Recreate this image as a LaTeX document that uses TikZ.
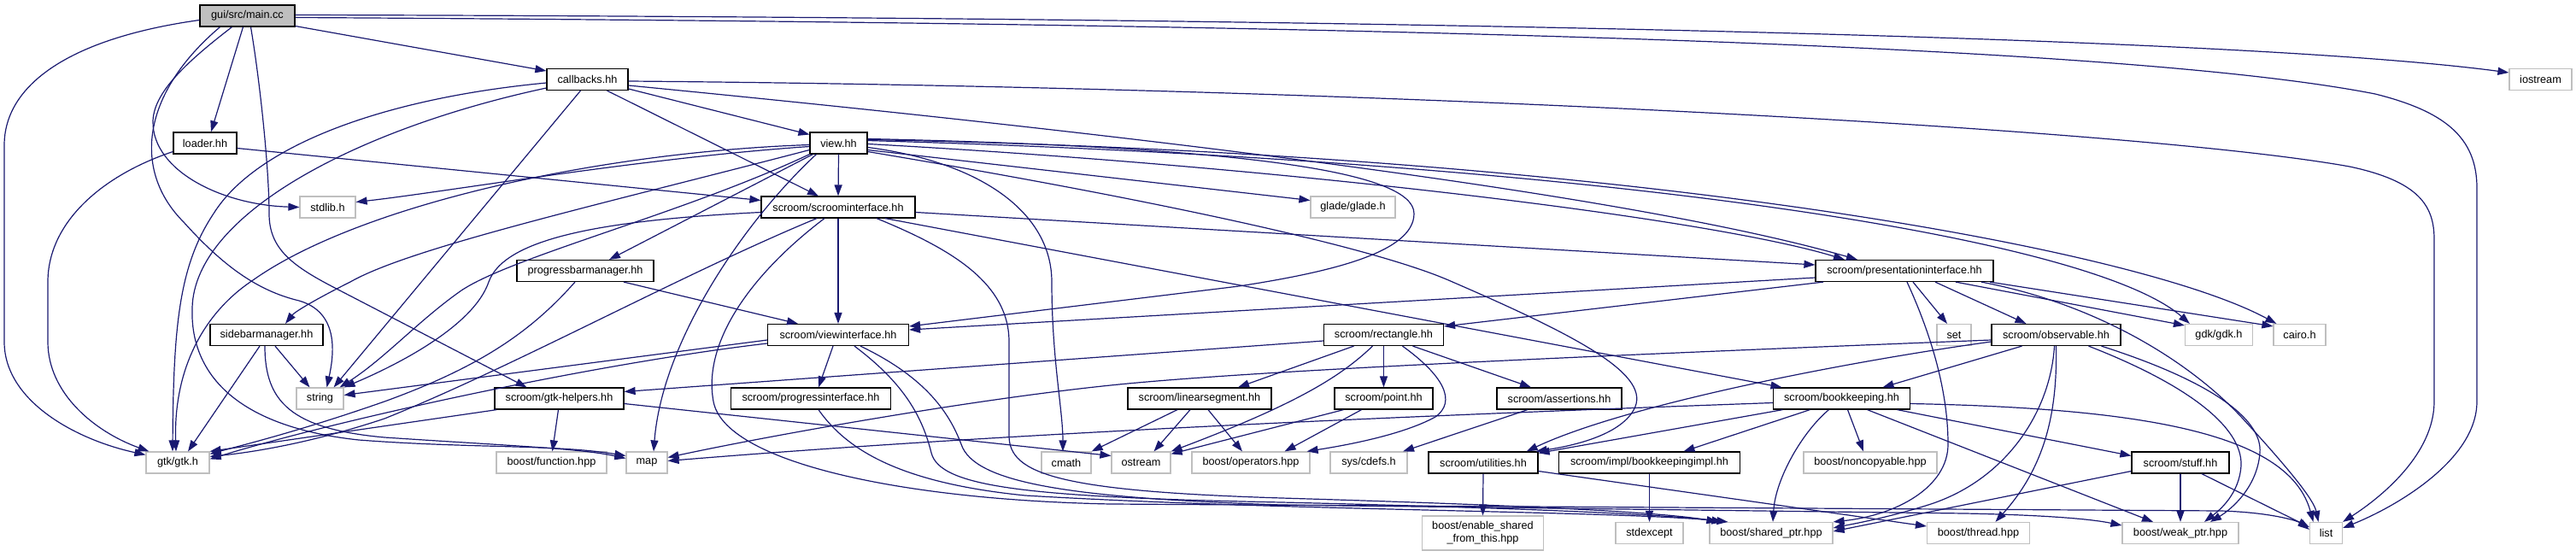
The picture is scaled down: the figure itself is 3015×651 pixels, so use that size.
\documentclass[tikz,border=0pt]{standalone}
\usepackage{fontspec}
\setmainfont{Liberation Sans}
\usetikzlibrary{arrows.meta}
\definecolor{edgeblue}{HTML}{191970}
\definecolor{greyline}{HTML}{BFBFBF}
\tikzset{
  hdr/.style={draw=black, line width=1.2pt, fill=white, inner sep=0pt, minimum height=25pt, font=\fontsize{12.7}{15}\selectfont},
  extnode/.style={hdr, draw=greyline},
  rootnode/.style={hdr, fill=greyline},
  dep/.style={draw=edgeblue, line width=1.2pt, -{Triangle[length=13pt,width=9pt]}}
}
\begin{document}
\begin{tikzpicture}[x=1pt,y=-1pt]
\useasboundingbox (0,0) rectangle (3015,651);
% nodes
\node[rootnode, minimum width=111pt] (main) at (289.5,18.5) {gui/src/main.cc};
\node[hdr, minimum width=95pt] (callbacks) at (687.5,93) {callbacks.hh};
\node[extnode, minimum width=73pt] (iostream) at (2973.5,93) {iostream};
\node[hdr, minimum width=74pt] (loader) at (240,167.5) {loader.hh};
\node[hdr, minimum width=67pt] (view) at (981.5,167.5) {view.hh};
\node[extnode, minimum width=65pt] (stdlib) at (383.5,242.5) {stdlib.h};
\node[hdr, minimum width=180pt] (scroomif) at (981,242.5) {scroom/scroominterface.hh};
\node[extnode, minimum width=99pt] (glade) at (1583.5,242.5) {glade/glade.h};
\node[hdr, minimum width=160pt] (pbm) at (685,317) {progressbarmanager.hh};
\node[hdr, minimum width=208pt] (presif) at (2229,317) {scroom/presentationinterface.hh};
\node[hdr, minimum width=132pt] (sbm) at (312,392) {sidebarmanager.hh};
\node[hdr, minimum width=165pt] (viewif) at (981,392) {scroom/viewinterface.hh};
\node[hdr, minimum width=140pt] (rect) at (1619.5,392) {scroom/rectangle.hh};
\node[extnode, minimum width=40pt] (set) at (2287,392) {set};
\node[hdr, minimum width=151pt] (obs) at (2406.5,392) {scroom/observable.hh};
\node[extnode, minimum width=79pt] (gdk) at (2597,392) {gdk/gdk.h};
\node[extnode, minimum width=61pt] (cairo) at (2691.5,392) {cairo.h};
\node[extnode, minimum width=55pt] (string) at (374.5,466.5) {string};
\node[hdr, minimum width=151pt] (gtkh) at (654.5,466.5) {scroom/gtk-helpers.hh};
\node[hdr, minimum width=187pt] (progif) at (949,466.5) {scroom/progressinterface.hh};
\node[hdr, minimum width=168pt] (linseg) at (1404,466.5) {scroom/linearsegment.hh};
\node[hdr, minimum width=115pt] (point) at (1619.5,466.5) {scroom/point.hh};
\node[hdr, minimum width=146pt] (assert) at (1825,466.5) {scroom/assertions.hh};
\node[hdr, minimum width=160pt] (bk) at (2155.5,466.5) {scroom/bookkeeping.hh};
\node[extnode, minimum width=74pt] (gtk) at (208,541.5) {gtk/gtk.h};
\node[extnode, minimum width=129pt] (func) at (645.5,541.5) {boost/function.hpp};
\node[extnode, minimum width=48pt] (map) at (757,541.5) {map};
\node[extnode, minimum width=58pt] (cmath) at (1248,541.5) {cmath};
\node[extnode, minimum width=69pt] (ostream) at (1335.5,541.5) {ostream};
\node[extnode, minimum width=138pt] (ops) at (1464,541.5) {boost/operators.hpp};
\node[extnode, minimum width=90pt] (cdefs) at (1602,541.5) {sys/cdefs.h};
\node[hdr, minimum width=128pt] (util) at (1736,541.5) {scroom/utilities.hh};
\node[hdr, minimum width=212pt] (bkimpl) at (1930.5,541.5) {scroom/impl/bookkeepingimpl.hh};
\node[extnode, minimum width=156pt] (noncopy) at (2189,541.5) {boost/noncopyable.hpp};
\node[hdr, minimum width=114pt] (stuff) at (2552,541.5) {scroom/stuff.hh};
\node[extnode, minimum width=142pt, minimum height=40pt, align=center] (enable) at (1735.5,624) {boost/enable\_shared\\\_from\_this.hpp};
\node[extnode, minimum width=79pt] (stdexcept) at (1930.5,624) {stdexcept};
\node[extnode, minimum width=144pt] (shared) at (2073,624) {boost/shared\_ptr.hpp};
\node[extnode, minimum width=120pt] (thread) at (2315.5,624) {boost/thread.hpp};
\node[extnode, minimum width=136pt] (weak) at (2552,624) {boost/weak\_ptr.hpp};
\node[extnode, minimum width=38pt] (list) at (2722.5,624) {list};
% main.cc
\draw[dep] ([yshift=-5pt]main.west) .. controls (80,45) and (5,100) .. (5,170) -- (5,400) .. controls (5,470) and (90,515) .. ([yshift=-4pt]gtk.north west);
\draw[dep] ([xshift=-5pt]main.south) -- ([xshift=7pt]loader.north);
\draw[dep] ([xshift=-18pt]main.south) .. controls (215,75) and (179,110) .. (179,143) .. controls (179,200) and (260,240) .. (stdlib.west);
\draw[dep] ([xshift=-32pt]main.south) .. controls (165,110) and (155,200) .. (215,260) .. controls (260,310) and (300,340) .. (350,352) .. controls (395,365) and (392,410) .. ([xshift=8pt]string.north);
\draw[dep] ([xshift=4pt]main.south) .. controls (305,100) and (315,200) .. (315,250) .. controls (315,290) and (340,310) .. (390,336) -- ([xshift=-38pt]gtkh.north);
\draw[dep] ([yshift=-12pt]main.east) -- ([yshift=10pt]callbacks.west);
\draw[dep] ([yshift=1pt]main.east) .. controls (1500,20) and (2600,40) .. ([yshift=8pt]iostream.west);
\draw[dep] ([yshift=-2pt]main.east) .. controls (1700,28) and (2500,55) .. (2780,110) .. controls (2860,130) and (2899,160) .. (2899,220) -- (2899,470) .. controls (2899,540) and (2800,595) .. ([yshift=6pt]list.east);
% callbacks.hh
\draw[dep] ([yshift=-4pt]callbacks.west) .. controls (450,115) and (300,170) .. (250,250) .. controls (210,310) and (203,380) .. ([xshift=-6pt]gtk.north);
\draw[dep] ([yshift=-10pt]callbacks.west) .. controls (420,150) and (228,250) .. (225,360) .. controls (222,440) and (280,500) .. (420,515) .. controls (550,525) and (650,520) .. ([yshift=8pt]map.west);
\draw[dep] ([xshift=-8pt]callbacks.south) -- ([xshift=-12pt]string.north east);
\draw[dep] ([yshift=-11pt]callbacks.east) -- ([yshift=10pt]view.west);
\draw[dep] ([xshift=23pt]callbacks.south) -- ([xshift=-23pt]scroomif.north);
\draw[dep] ([yshift=-7pt]callbacks.east) .. controls (1300,155) and (1900,225) .. ([xshift=-55pt]presif.north);
\draw[dep] ([yshift=-2pt]callbacks.east) .. controls (1600,102) and (2500,150) .. (2750,195) .. controls (2830,212) and (2849,240) .. (2849,280) -- (2849,470) .. controls (2849,530) and (2790,580) .. (list.north east);
% loader.hh
\draw[dep] ([yshift=-10pt]loader.west) .. controls (120,205) and (56,260) .. (56,330) -- (56,400) .. controls (56,460) and (110,505) .. ([xshift=4pt]gtk.north west);
\draw[dep] ([yshift=-6pt]loader.east) -- ([yshift=8pt]scroomif.west);
% view.hh
\draw[dep] ([yshift=-2pt]view.west) .. controls (700,178) and (420,240) .. (296,328) .. controls (240,365) and (203,430) .. ([xshift=-2pt]gtk.north);
\draw[dep] ([yshift=-4pt]view.west) .. controls (750,185) and (520,225) .. ([yshift=6pt]stdlib.east);
\draw[dep] ([yshift=-8pt]view.west) .. controls (700,240) and (480,290) .. (410,330) .. controls (370,350) and (345,365) .. ([xshift=22pt]sbm.north);
\draw[dep] (view.south west) .. controls (800,250) and (600,300) .. (540,340) .. controls (490,375) and (450,420) .. ([xshift=-5pt]string.north east);
\draw[dep] ([xshift=4pt]view.south west) -- ([xshift=28pt]pbm.north);
\draw[dep] ([xshift=8pt]view.south west) .. controls (870,260) and (775,400) .. ([xshift=8pt]map.north);
\draw[dep] (view.south) -- (scroomif.north);
\draw[dep] ([yshift=5pt]view.east) .. controls (1450,172) and (1655,200) .. (1655,250) .. controls (1655,295) and (1560,318) .. (1450,335) -- ([yshift=10pt]viewif.east);
\draw[dep] ([yshift=-1pt]view.east) .. controls (1500,195) and (2000,255) .. ([xshift=-70pt]presif.north);
\draw[dep] ([yshift=-8pt]view.east) -- ([yshift=8pt]glade.west);
\draw[dep] ([yshift=-5pt]view.east) .. controls (1150,190) and (1231,250) .. (1231,330) .. controls (1231,420) and (1244,480) .. ([xshift=-4pt]cmath.north);
\draw[dep] ([yshift=-10pt]view.east) .. controls (1300,225) and (1600,285) .. (1700,330) .. controls (1850,395) and (1935,440) .. (1912,480) .. controls (1895,510) and (1840,522) .. ([xshift=-3pt]util.north east);
\draw[dep] ([yshift=3pt]view.east) .. controls (1900,190) and (2450,280) .. ([xshift=6pt]gdk.north west);
\draw[dep] ([yshift=4pt]view.east) .. controls (1900,180) and (2500,290) .. ([xshift=4pt]cairo.north west);
% scroominterface.hh
\draw[dep] ([yshift=-6pt]scroomif.west) .. controls (700,258) and (590,280) .. (572,330) .. controls (555,380) and (470,425) .. (string.north east);
\draw[dep] ([xshift=-25pt]scroomif.south) .. controls (800,320) and (600,430) .. (450,490) .. controls (360,520) and (290,530) .. ([yshift=-6pt]gtk.north east);
\draw[dep] (scroomif.south) -- (viewif.north);
\draw[dep] ([xshift=-16pt]scroomif.south) .. controls (880,320) and (822,400) .. (835,470) .. controls (848,540) and (1050,585) .. (1300,590) -- (2600,598) .. controls (2660,600) and (2690,610) .. ([yshift=4pt]list.west);
\draw[dep] ([xshift=45pt]scroomif.south) .. controls (1110,290) and (1181,330) .. (1181,400) -- (1181,510) .. controls (1181,555) and (1240,575) .. (1500,583) .. controls (1800,592) and (1950,600) .. ([xshift=10pt]shared.north west);
\draw[dep] ([xshift=55pt]scroomif.south) -- ([xshift=-70pt]bk.north);
\draw[dep] ([yshift=-6pt]scroomif.east) -- ([yshift=7pt]presif.west);
% presentationinterface.hh
\draw[dep] ([yshift=-8pt]presif.west) -- ([yshift=6pt]viewif.east);
\draw[dep] ([xshift=-95pt]presif.south) -- ([yshift=10pt]rect.east);
\draw[dep] ([xshift=10pt]presif.south) -- ([xshift=-8pt]set.north);
\draw[dep] ([xshift=36pt]presif.south) -- ([xshift=-35pt]obs.north);
\draw[dep] ([xshift=60pt]presif.south) -- ([yshift=-2pt]gdk.north west);
\draw[dep] ([xshift=100pt]presif.south) -- ([yshift=-3pt]cairo.north west);
\draw[dep] ([xshift=3pt]presif.south) .. controls (2255,380) and (2280,450) .. (2280,520) .. controls (2280,570) and (2220,603) .. (shared.north east);
\draw[dep] ([xshift=90pt]presif.south) .. controls (2450,355) and (2560,420) .. (2625,490) .. controls (2680,550) and (2708,585) .. ([xshift=-9pt]list.north);
% viewinterface.hh
\draw[dep] ([yshift=-6pt]viewif.west) -- ([yshift=4pt]string.east);
\draw[dep] ([yshift=-10pt]viewif.west) .. controls (700,425) and (400,490) .. ([yshift=-9pt]gtk.north east);
\draw[dep] ([xshift=-6pt]viewif.south) -- ([xshift=9pt]progif.north);
\draw[dep] ([xshift=19pt]viewif.south) .. controls (1060,450) and (1080,490) .. (1090,530) .. controls (1100,570) and (1200,582) .. (1500,588) .. controls (1800,595) and (1960,603) .. ([xshift=16pt]shared.north west);
\draw[dep] ([xshift=26pt]viewif.south) .. controls (1080,440) and (1110,480) .. (1125,520) .. controls (1140,565) and (1250,583) .. (1500,591) -- (2300,601) .. controls (2400,603) and (2450,608) .. ([yshift=9pt]weak.west);
% progressinterface.hh
\draw[dep] ([xshift=9pt]progif.south) .. controls (990,525) and (1050,565) .. (1200,580) .. controls (1500,598) and (1900,598) .. ([xshift=22pt]shared.north west);
% progressbarmanager.hh
\draw[dep] ([xshift=-12pt]pbm.south) .. controls (620,390) and (560,430) .. (450,470) .. controls (350,505) and (280,522) .. ([yshift=-3pt]gtk.north east);
\draw[dep] ([xshift=45pt]pbm.south) -- ([xshift=-47pt]viewif.north);
% sidebarmanager.hh
\draw[dep] ([xshift=-8pt]sbm.south) -- ([xshift=12pt]gtk.north);
\draw[dep] ([xshift=10pt]sbm.south) -- ([xshift=-12pt]string.north);
\draw[dep] ([xshift=-2pt]sbm.south) .. controls (310,470) and (340,502) .. (450,512) .. controls (600,522) and (680,525) .. ([yshift=5pt]map.west);
% gtk-helpers.hh
\draw[dep] ([xshift=3pt]gtkh.south west) -- (gtk.north east);
\draw[dep] ([xshift=-1pt]gtkh.south) -- ([xshift=1pt]func.north);
\draw[dep] ([yshift=-6pt]gtkh.east) -- ([yshift=8pt]ostream.west);
% rectangle.hh
\draw[dep] ([yshift=-7pt]rect.west) -- ([yshift=8pt]gtkh.east);
\draw[dep] ([xshift=-35pt]rect.south) -- ([xshift=45pt]linseg.north);
\draw[dep] ([xshift=-13pt]rect.south) .. controls (1570,440) and (1520,472) .. (ostream.north east);
\draw[dep] (rect.south) -- (point.north);
\draw[dep] ([xshift=34pt]rect.south) -- ([xshift=-33pt]assert.north);
\draw[dep] ([xshift=22pt]rect.south) .. controls (1690,440) and (1705,470) .. (1680,488) .. controls (1640,510) and (1570,522) .. ([xshift=-4pt]ops.north east);
% point.hh
\draw[dep] ([xshift=-47pt]point.south) -- ([yshift=-3pt]ostream.north east);
\draw[dep] ([xshift=-26pt]point.south) -- ([xshift=-30pt]ops.north east);
% linearsegment.hh
\draw[dep] ([xshift=-26pt]linseg.south) -- (cmath.north east);
\draw[dep] ([xshift=-11pt]linseg.south) -- ([xshift=15pt]ostream.north);
\draw[dep] ([xshift=10pt]linseg.south) -- ([xshift=-10pt]ops.north);
% assertions.hh
\draw[dep] ([xshift=-37pt]assert.south) -- ([xshift=40pt]cdefs.north);
% observable.hh
\draw[dep] ([yshift=-6pt]obs.west) .. controls (1900,415) and (1500,432) .. (1320,449) .. controls (1150,465) and (900,510) .. ([yshift=6pt]map.east);
\draw[dep] ([yshift=-8pt]obs.west) .. controls (2150,425) and (1900,475) .. ([xshift=-14pt]util.north east);
\draw[dep] ([xshift=-40pt]obs.south) -- ([xshift=48pt]bk.north);
\draw[dep] ([xshift=-2pt]obs.south) .. controls (2400,480) and (2350,560) .. (2260,590) .. controls (2210,606) and (2170,613) .. ([yshift=6pt]shared.east);
\draw[dep] (obs.south) .. controls (2408,480) and (2395,545) .. ([xshift=20pt]thread.north);
\draw[dep] ([xshift=38pt]obs.south) .. controls (2560,450) and (2625,500) .. (2623,545) .. controls (2621,578) and (2598,597) .. ([xshift=28pt]weak.north);
\draw[dep] ([xshift=53pt]obs.south) .. controls (2600,450) and (2648,495) .. (2645,530) .. controls (2642,570) and (2612,596) .. ([xshift=35pt]weak.north);
% bookkeeping.hh
\draw[dep] ([yshift=-5pt]bk.west) .. controls (1700,485) and (1200,505) .. ([yshift=2pt]map.east);
\draw[dep] ([xshift=-69pt]bk.south) -- ([yshift=-2pt]util.north east);
\draw[dep] ([xshift=-37pt]bk.south) -- ([xshift=40pt]bkimpl.north);
\draw[dep] ([xshift=-15pt]bk.south) .. controls (2110,505) and (2078,560) .. ([xshift=2pt]shared.north);
\draw[dep] ([xshift=7pt]bk.south) -- ([xshift=-8pt]noncopy.north);
\draw[dep] ([xshift=30pt]bk.south) -- ([xshift=-32pt]weak.north);
\draw[dep] ([xshift=65pt]bk.south) -- ([yshift=8pt]stuff.west);
\draw[dep] ([yshift=-6pt]bk.east) .. controls (2520,478) and (2680,510) .. ([xshift=-15pt]list.north);
% stuff.hh
\draw[dep] ([yshift=-10pt]stuff.west) -- ([yshift=2pt]shared.east);
\draw[dep] (stuff.south) -- (weak.north);
\draw[dep] ([xshift=25pt]stuff.south) -- ([yshift=7pt]list.west);
% utilities.hh
\draw[dep] (util.south) -- (enable.north);
\draw[dep] ([yshift=-10pt]util.east) -- ([yshift=8pt]thread.west);
% bookkeepingimpl.hh
\draw[dep] (bkimpl.south) -- (stdexcept.north);
\end{tikzpicture}
\end{document}
